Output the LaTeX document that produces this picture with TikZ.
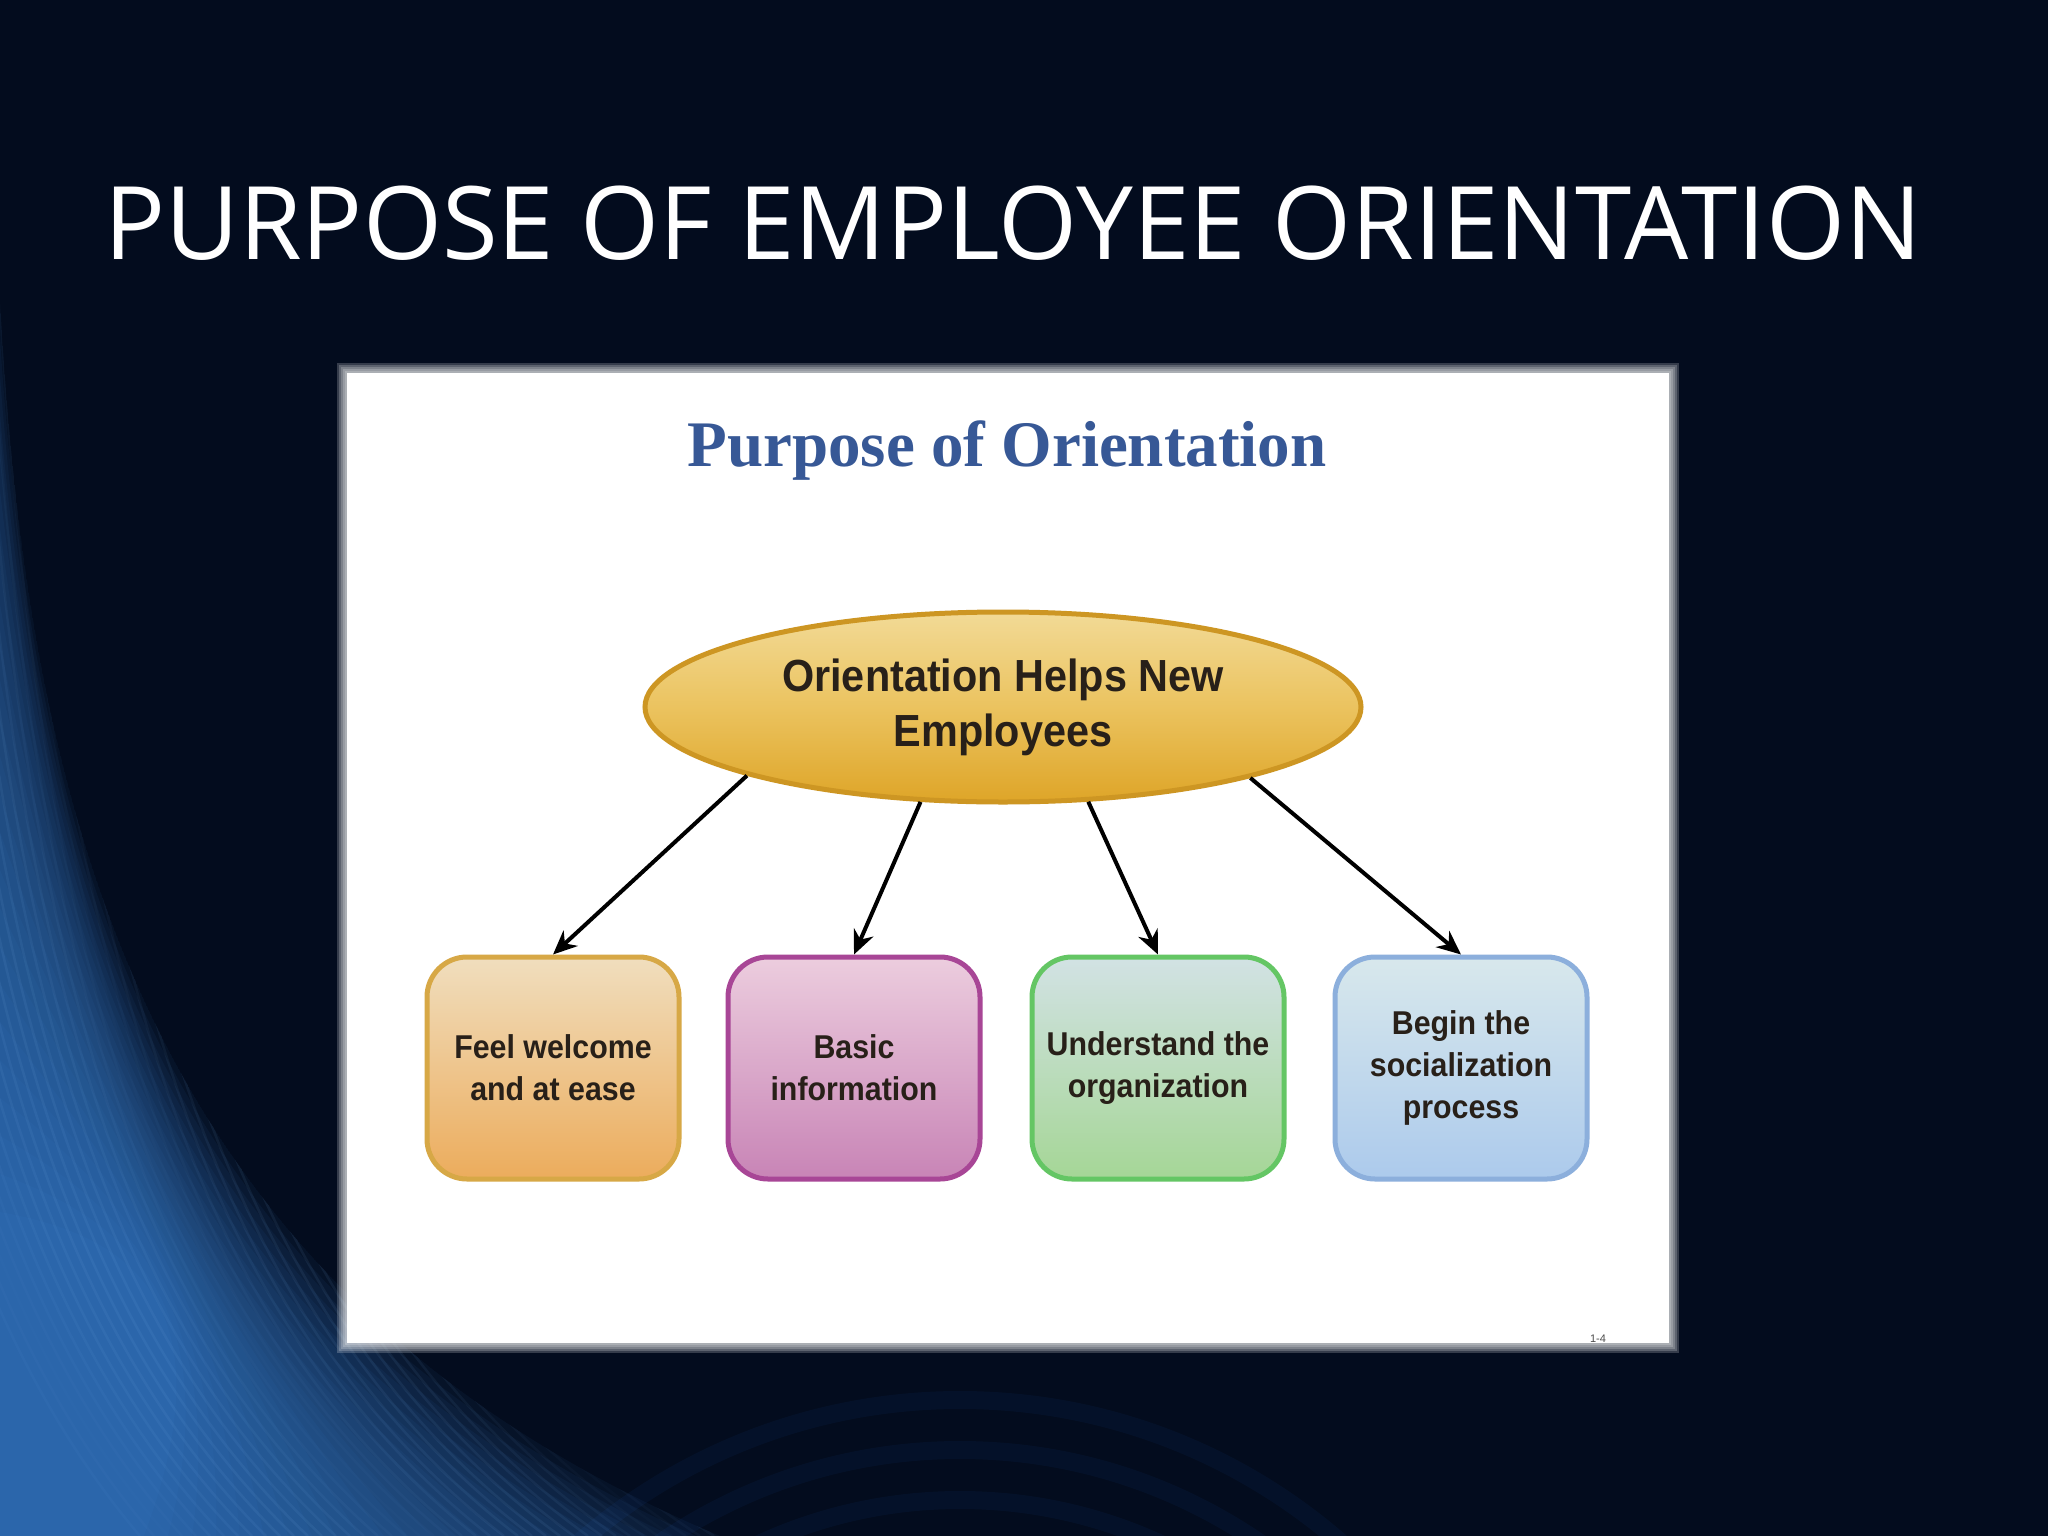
\documentclass[tikz,border=0pt]{standalone}
\usepackage{fontspec}
\setmainfont{Liberation Sans}
\newfontfamily\titlefont{Open Sans}
\newfontfamily\serifbold{Liberation Serif}
\newfontfamily\boxfont[FakeStretch=0.92]{Liberation Sans}
\usetikzlibrary{shapes.geometric,arrows.meta}
\definecolor{navy}{RGB}{3,12,30}
\definecolor{glowblue}{RGB}{65,140,225}
\definecolor{streakblue}{RGB}{140,195,250}
\definecolor{arcblue}{RGB}{20,70,140}
\definecolor{innertitle}{RGB}{55,88,150}
\definecolor{goldtop}{RGB}{242,218,150}
\definecolor{goldmid}{RGB}{235,195,95}
\definecolor{goldbot}{RGB}{222,165,40}
\definecolor{goldline}{RGB}{205,150,35}
\definecolor{orline}{RGB}{215,168,70}
\definecolor{ortop}{RGB}{240,222,190}
\definecolor{ormid}{RGB}{238,200,150}
\definecolor{orbot}{RGB}{236,172,92}
\definecolor{puline}{RGB}{168,70,150}
\definecolor{putop}{RGB}{236,205,222}
\definecolor{pumid}{RGB}{218,165,205}
\definecolor{pubot}{RGB}{200,132,182}
\definecolor{grline}{RGB}{100,198,100}
\definecolor{grtop}{RGB}{210,226,228}
\definecolor{grmid}{RGB}{190,222,170}
\definecolor{grbot}{RGB}{165,214,150}
\definecolor{blline}{RGB}{140,175,220}
\definecolor{bltop}{RGB}{216,232,236}
\definecolor{blmid}{RGB}{190,215,238}
\definecolor{blbot}{RGB}{172,202,236}
\definecolor{textdark}{RGB}{40,32,25}
\tikzset{
  mainellipse/.style={ellipse, draw=goldline, line width=5pt, minimum width=716pt, minimum height=190pt,
    top color=goldtop, bottom color=goldbot, middle color=goldmid, inner sep=0pt,
    font=\boxfont\bfseries\fontsize{45}{55}\selectfont, text=textdark, align=center},
  itembox/.style={rectangle, rounded corners=40pt, line width=5pt, minimum width=252pt, minimum height=222pt,
    inner sep=0pt, font=\boxfont\bfseries\fontsize{33}{42}\selectfont, text=textdark, align=center},
  conn/.style={line width=4pt, black, -{Stealth[length=24pt,width=21pt]}}
}
\begin{document}
\begin{tikzpicture}[x=1pt,y=-1pt]
\useasboundingbox (0,0) rectangle (2048,1536);
% background
\fill[navy] (0,0) rectangle (2048,1536);
\begin{scope}
\clip (0,0) rectangle (2048,1536);
\foreach \r in {380,430,...,580} {
  \draw[arcblue, line width=18pt, opacity=0.1] (960,1980) circle (\r);
}
\end{scope}
\begin{scope}
\clip (0,300) .. controls (30,850) and (160,1300) .. (720,1536) -- (0,1536) -- cycle;
\foreach \k in {0,...,24} {
  \fill[glowblue, opacity=0.055] (0,{300+\k*38}) .. controls ({30+\k*4},{850+\k*16}) and ({160+\k*3},1300) .. ({720-\k*24},1536) -- (0,1536) -- cycle;
}
\foreach \s in {-200,-190,...,260} {
  \pgfmathsetmacro{\op}{0.02+0.06*abs(sin(\s*37))}
  \draw[streakblue, line width=2.5pt, opacity=\op] (\s,100) .. controls ({\s+30},900) and ({\s+140},1300) .. ({\s*1.4+420},1536);
}
\end{scope}
% panel glow edge
\foreach \d in {-5,-3,...,5} {
  \fill[white, opacity=0.2] ({342-\d},{368-\d}) rectangle ({1674+\d},{1348+\d});
}
\fill[white] (347,373) rectangle (1669,1343);
% slide title
\node[anchor=base west, inner sep=0pt, text=white, font=\titlefont\fontsize{101.5}{110}\selectfont] (title) at (104,259) {PURPOSE OF EMPLOYEE ORIENTATION};
% inner title
\node[anchor=base, inner sep=0pt, text=innertitle, font=\serifbold\bfseries\fontsize{65}{70}\selectfont] (ptitle) at (1007,466) {Purpose of Orientation};
% diagram
\node[mainellipse] (ell) at (1003,707) {Orientation Helps New\\Employees};
\node[itembox, draw=orline, top color=ortop, middle color=ormid, bottom color=orbot] (b1) at (553,1068) {Feel welcome\\and at ease};
\node[itembox, draw=puline, top color=putop, middle color=pumid, bottom color=pubot] (b2) at (854,1068) {Basic\\information};
\node[itembox, draw=grline, top color=grtop, middle color=grmid, bottom color=grbot] (b3) at (1158,1068) {Understand the\\organization};
\node[itembox, draw=blline, top color=bltop, middle color=blmid, bottom color=blbot] (b4) at (1461,1068) {Begin the\\socialization\\process};
\draw[conn] (ell.195.5) -- (b1.north);
\draw[conn] (ell.229.6) -- (b2.north);
\draw[conn] (ell.312.5) -- (b3.north);
\draw[conn] (ell.344.9) -- (b4.north);
\node[inner sep=0pt, text=black!70, font=\fontsize{11}{12}\selectfont] (pg) at (1598,1339) {1-4};
\end{tikzpicture}
\end{document}
